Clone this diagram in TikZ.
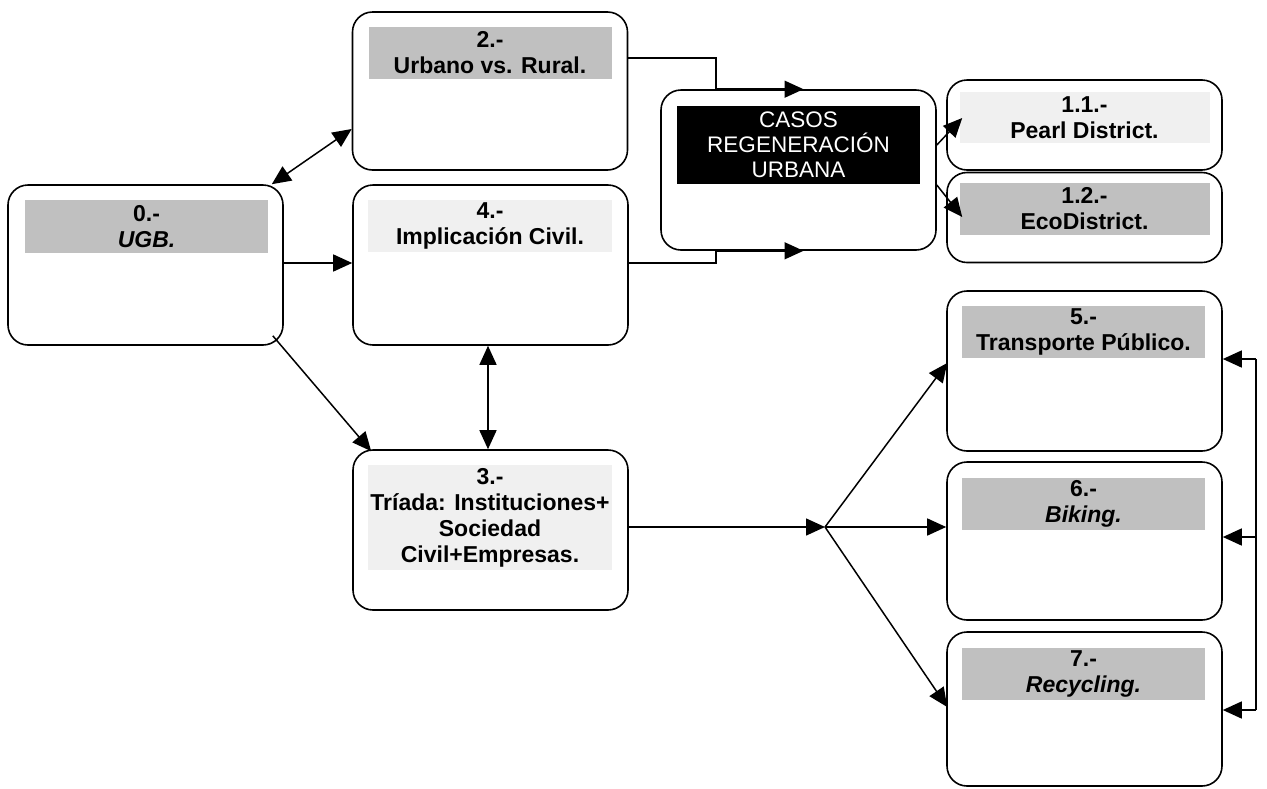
\documentclass[tikz,border=0pt]{standalone}
\usepackage{fontspec}
\setmainfont{Liberation Sans}
\usetikzlibrary{arrows.meta,calc}
\definecolor{bandgrey}{HTML}{C0C0C0}
\definecolor{bandlight}{HTML}{F0F0F0}
\begin{document}
\begin{tikzpicture}[x=1pt,y=-1pt,
  box/.style={draw, line width=1.6pt, rounded corners=20pt, minimum width=275pt, minimum height=#1, inner sep=0pt},
  band/.style={fill=#1, minimum width=243pt, inner sep=0pt, align=center, font=\fontsize{23}{26}\selectfont\bfseries},
  conn/.style={line width=1.5pt},
  arr/.style={conn, -{Triangle[length=19pt,width=17pt]}},
  biarr/.style={conn, {Triangle[length=19pt,width=17pt]}-{Triangle[length=19pt,width=17pt]}}]
\useasboundingbox (0,0) rectangle (1267,788);
% boxes
\node[box=160pt] (b0) at (145.5,265) {};
\node[box=158pt] (b2) at (490,91) {};
\node[box=160pt] (b4) at (490.5,265) {};
\node[box=160pt] (b3) at (490.5,530) {};
\node[box=160pt] (bc) at (798.5,170) {};
\node[box=90pt] (b11) at (1084.5,125) {};
\node[box=90pt] (b12) at (1084.5,217.5) {};
\node[box=160pt] (b5) at (1084.5,371) {};
\node[box=158pt] (b6) at (1084.5,541) {};
\node[box=154pt] (b7) at (1084.5,709) {};
% bands
\node[band=bandgrey, minimum height=53pt] (t0) at (146.5,226.5) {0.-\\\textit{UGB.}};
\node[band=bandgrey, minimum height=52pt] (t2) at (490,53) {2.-\\Urbano vs. Rural.};
\node[band=bandlight, minimum height=52pt, minimum width=244pt] (t4) at (490,226) {4.-\\Implicación Civil.};
\node[band=bandlight, minimum height=105pt, minimum width=244pt] (t3) at (490,517.5) {3.-\\Tríada: Instituciones+\\Sociedad\\Civil+Empresas.};
\node[band=black, minimum height=78pt, text=white, font=\fontsize{22.5}{25}\selectfont] (tc) at (798.5,145) {CASOS\\REGENERACIÓN\\URBANA};
\node[band=bandlight, minimum height=51pt, minimum width=250pt] (t11) at (1084.5,117.5) {1.1.-\\Pearl District.};
\node[band=bandgrey, minimum height=52pt, minimum width=250pt] (t12) at (1084.5,209) {1.2.-\\EcoDistrict.};
\node[band=bandgrey, minimum height=52pt] (t5) at (1083.5,332) {5.-\\Transporte Público.};
\node[band=bandgrey, minimum height=52pt] (t6) at (1083.5,504) {6.-\\\textit{Biking.}};
\node[band=bandgrey, minimum height=52pt] (t7) at (1083.5,674) {7.-\\\textit{Recycling.}};
% helper coordinates
\coordinate (k2) at (716,58);
\coordinate (k4) at (716,263);
\coordinate (j) at (825,527);
\coordinate (r5) at (1256,359);
\coordinate (r6) at (1256,537);
\coordinate (r7) at (1256,710);
% connectors
\draw[biarr] ($(b0.north east)+(-12,0)$) -- ($(b2.west)+(0,38)$);
\draw[arr] (b0.east |- k4) -- (b4.west |- k4);
\draw[arr] ($(b0.south east)+(-11,-10)$) -- ($(b3.north west)+(19,2)$);
\draw[biarr] (b4.south -| 488,0) -- (b3.north -| 488,0);
\draw[arr] (b2.east |- k2) -- (k2) -- (k2 |- bc.north) -- ($(bc.north)+(5,0)$);
\draw[arr] (b4.east |- k4) -- (k4) -- (k4 |- bc.south) -- ($(bc.south)+(5,0)$);
\draw[arr] ($(bc.east)+(0,-25)$) -- ($(b11.west)+(16,-7)$);
\draw[arr] ($(bc.east)+(0,15)$) -- ($(b12.west)+(16,-0.5)$);
\draw[arr] (b3.east |- j) -- (j);
\draw[arr] (j) -- ($(b5.west)+(1,-8)$);
\draw[arr] (j) -- (b6.west |- j);
\draw[arr] (j) -- ($(b7.west)+(1,-2)$);
\draw[conn] (r5) -- (r7);
\draw[arr] (r5) -- (b5.east |- r5);
\draw[arr] (r6) -- (b6.east |- r6);
\draw[arr] (r7) -- (b7.east |- r7);
\end{tikzpicture}
\end{document}
